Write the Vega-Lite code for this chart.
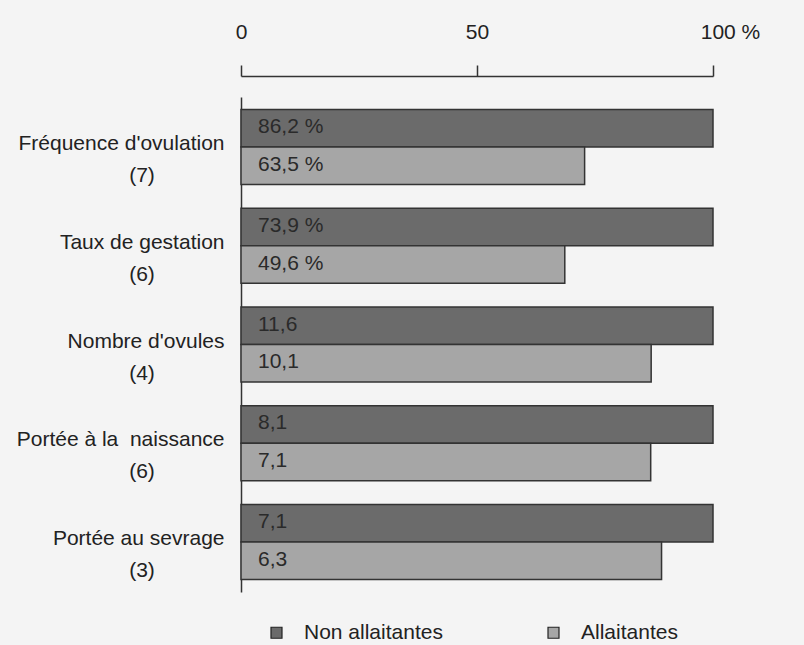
{
  "$schema": "https://vega.github.io/schema/vega-lite/v6.json",
  "width": 472,
  "height": 495,
  "autosize": "none",
  "padding": {"left": 241, "top": 97, "right": 91, "bottom": 53},
  "background": "#f4f4f4",
  "config": {
    "view": {"stroke": null},
    "font": "Liberation Sans",
    "text": {"font": "Liberation Sans"}
  },
  "data": {
    "values": [
      {"cat": "Fréquence d'ovulation", "n": "(7)", "serie": "Non allaitantes", "pct": 100, "txt": "86,2 %"},
      {"cat": "Fréquence d'ovulation", "n": "(7)", "serie": "Allaitantes", "pct": 72.8, "txt": "63,5 %"},
      {"cat": "Taux de gestation", "n": "(6)", "serie": "Non allaitantes", "pct": 100, "txt": "73,9 %"},
      {"cat": "Taux de gestation", "n": "(6)", "serie": "Allaitantes", "pct": 68.6, "txt": "49,6 %"},
      {"cat": "Nombre d'ovules", "n": "(4)", "serie": "Non allaitantes", "pct": 100, "txt": "11,6"},
      {"cat": "Nombre d'ovules", "n": "(4)", "serie": "Allaitantes", "pct": 86.9, "txt": "10,1"},
      {"cat": "Portée à la  naissance", "n": "(6)", "serie": "Non allaitantes", "pct": 100, "txt": "8,1"},
      {"cat": "Portée à la  naissance", "n": "(6)", "serie": "Allaitantes", "pct": 86.8, "txt": "7,1"},
      {"cat": "Portée au sevrage", "n": "(3)", "serie": "Non allaitantes", "pct": 100, "txt": "7,1"},
      {"cat": "Portée au sevrage", "n": "(3)", "serie": "Allaitantes", "pct": 89.1, "txt": "6,3"}
    ]
  },
  "encoding": {
    "y": {
      "field": "cat",
      "type": "nominal",
      "sort": null,
      "title": null,
      "scale": {"paddingInner": 0.24, "paddingOuter": 0.126},
      "axis": {
        "orient": "left",
        "ticks": false,
        "domain": true,
        "domainColor": "#333333",
        "domainWidth": 1.5,
        "labelPadding": 17,
        "labelFontSize": 21,
        "labelColor": "#222222",
        "labelOffset": -3,
        "labelLimit": 300,
        "labelExpr": "replace(datum.value,'  ',' \u00a0')"
      }
    }
  },
  "layer": [
    {
      "mark": {"type": "bar", "stroke": "#333333", "strokeWidth": 1.5},
      "encoding": {
        "x": {
          "field": "pct",
          "type": "quantitative",
          "title": null,
          "scale": {"domain": [0, 100], "nice": false},
          "axis": {
            "orient": "top",
            "values": [0, 50, 100],
            "grid": false,
            "offset": 21,
            "tickSize": 11,
            "tickColor": "#333333",
            "tickWidth": 1.5,
            "domainColor": "#333333",
            "domainWidth": 1.5,
            "labelFontSize": 21,
            "labelColor": "#222222",
            "labelPadding": 23,
            "labelFlush": false,
            "labelExpr": "datum.value == 100 ? '100 %' : datum.label",
            "labelOffset": {"condition": {"test": "datum.value == 100", "value": 17}, "value": 0}
          }
        },
        "yOffset": {
          "field": "serie",
          "type": "nominal",
          "scale": {"domain": ["Non allaitantes", "Allaitantes"], "paddingInner": 0, "paddingOuter": 0}
        },
        "color": {
          "field": "serie",
          "type": "nominal",
          "scale": {"domain": ["Non allaitantes", "Allaitantes"], "range": ["#6b6b6b", "#a6a6a6"]},
          "legend": {
            "title": null,
            "orient": "none",
            "legendX": 25,
            "legendY": 525,
            "direction": "horizontal",
            "columns": 2,
            "columnPadding": 100,
            "symbolType": "square",
            "symbolSize": 121,
            "symbolStrokeColor": "#222222",
            "symbolStrokeWidth": 1.2,
            "labelOffset": 17,
            "labelFontSize": 21,
            "labelColor": "#222222",
            "labelLimit": 300
          }
        }
      }
    },
    {
      "mark": {"type": "text", "align": "left", "baseline": "middle", "dx": 17, "dy": -1, "fontSize": 21, "color": "#2a2a2a"},
      "encoding": {
        "x": {"datum": 0, "type": "quantitative"},
        "yOffset": {
          "field": "serie",
          "type": "nominal",
          "scale": {"domain": ["Non allaitantes", "Allaitantes"], "paddingInner": 0, "paddingOuter": 0}
        },
        "text": {"field": "txt"}
      }
    },
    {
      "transform": [{"filter": "datum.serie === 'Non allaitantes'"}],
      "mark": {"type": "text", "align": "center", "baseline": "middle", "dx": -99, "dy": 29, "fontSize": 21, "color": "#222222"},
      "encoding": {
        "x": {"datum": 0, "type": "quantitative"},
        "text": {"field": "n"}
      }
    }
  ]
}
